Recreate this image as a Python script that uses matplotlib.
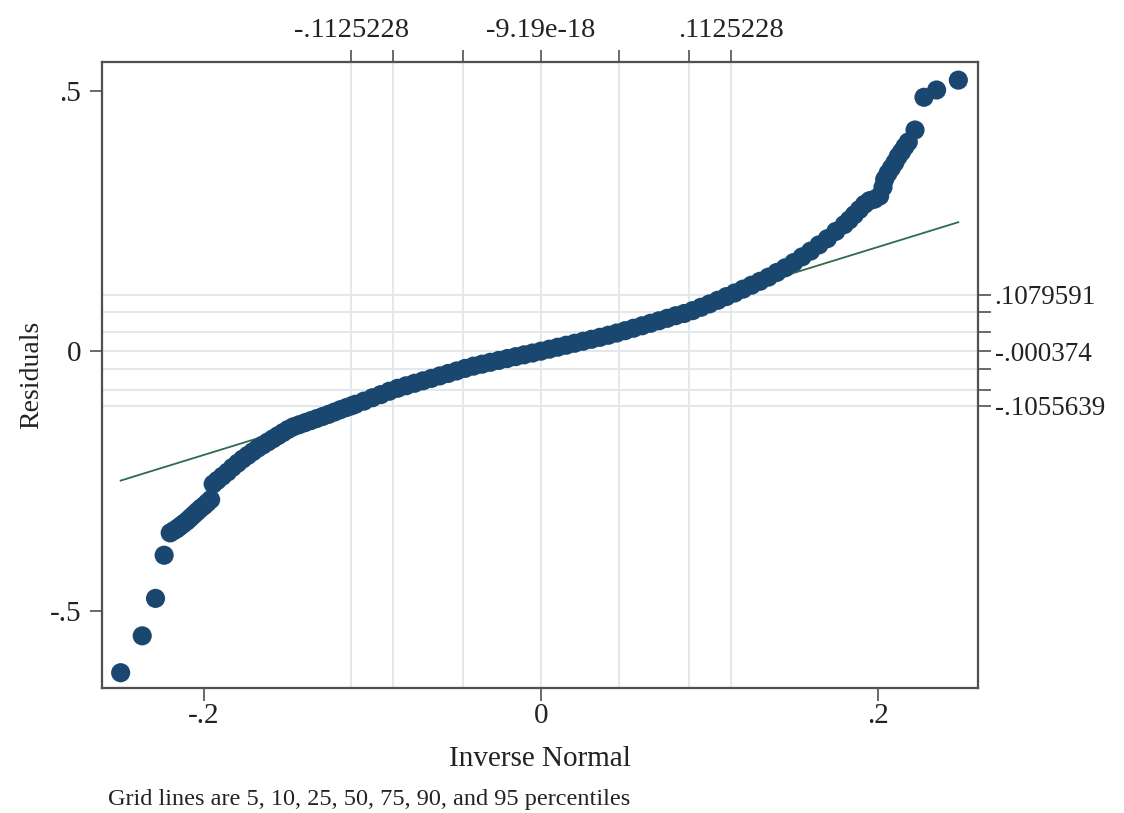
"""
qnorm-style plot of residuals against inverse normal, with percentile grid lines.
"""
import matplotlib
matplotlib.use("Agg")
import matplotlib.pyplot as plt

# ── Data ──────────────────────────────────────────────────────────────
# inverse-normal quantiles (x) and sorted residuals (y)
inv_normal = [
    -0.2494, -0.2366, -0.2287, -0.2236,
    -0.2200, -0.2180, -0.2160, -0.2140, -0.2120, -0.2100, -0.2080, -0.2060,
    -0.2040, -0.2020, -0.2000, -0.1980, -0.1960,
    -0.1945, -0.1920, -0.1890, -0.1860, -0.1830, -0.1800, -0.1770, -0.1740,
    -0.1710, -0.1680, -0.1650, -0.1620, -0.1590, -0.1560, -0.1530, -0.1500,
    -0.1470, -0.1435, -0.1400, -0.1365, -0.1330, -0.1295, -0.1260, -0.1225,
    -0.1190, -0.1155, -0.1125,
    -0.110, -0.105, -0.100, -0.095, -0.090, -0.085, -0.080, -0.075, -0.070,
    -0.065, -0.060, -0.055, -0.050, -0.045, -0.040, -0.035, -0.030, -0.025,
    -0.020, -0.015, -0.010, -0.005, 0.000, 0.005, 0.010, 0.015, 0.020,
    0.025, 0.030, 0.035, 0.040, 0.045, 0.050, 0.055, 0.060, 0.065,
    0.070, 0.075, 0.080, 0.085, 0.090, 0.095, 0.100, 0.105, 0.110, 0.115,
    0.120, 0.125, 0.130, 0.135, 0.140, 0.145, 0.150, 0.155, 0.160, 0.165,
    0.170, 0.175, 0.180, 0.183, 0.186, 0.189, 0.192, 0.195, 0.198, 0.201,
    0.203, 0.204, 0.206, 0.208, 0.210, 0.212, 0.214, 0.216, 0.218, 0.222,
    0.2273, 0.2348, 0.2477,
]
residuals = [
    -0.619, -0.548, -0.476, -0.393,
    -0.350, -0.346, -0.342, -0.337, -0.332, -0.327, -0.321, -0.315,
    -0.309, -0.303, -0.298, -0.292, -0.286,
    -0.256, -0.249, -0.241, -0.233, -0.224, -0.216, -0.208, -0.201,
    -0.194, -0.187, -0.181, -0.175, -0.169, -0.163, -0.157, -0.151,
    -0.146, -0.142, -0.138, -0.134, -0.130, -0.126, -0.122, -0.1175,
    -0.113, -0.109, -0.1056,
    -0.1025, -0.0965, -0.0900, -0.0840, -0.0775, -0.0718, -0.0670, -0.0622, -0.0575,
    -0.0528, -0.0480, -0.0433, -0.0385, -0.0336, -0.0292, -0.0255, -0.0218, -0.0182,
    -0.0146, -0.0110, -0.0075, -0.0040, -0.0004, 0.0034, 0.0072, 0.0110, 0.0148,
    0.0186, 0.0224, 0.0262, 0.0302, 0.0345, 0.0390, 0.0437, 0.0484, 0.0532,
    0.0580, 0.0628, 0.0678, 0.0720, 0.0775, 0.0840, 0.0905, 0.0975, 0.1045, 0.1115,
    0.119, 0.1265, 0.134, 0.142, 0.151, 0.160, 0.170, 0.181, 0.192, 0.204,
    0.216, 0.230, 0.243, 0.252, 0.262, 0.272, 0.282, 0.289, 0.292, 0.298,
    0.315, 0.330, 0.342, 0.352, 0.362, 0.374, 0.383, 0.393, 0.402, 0.425,
    0.488, 0.502, 0.521,
]

# percentile grid lines: 5, 10, 25, 50, 75, 90, 95
x_pct = [-0.1125228, -0.0877, -0.0461, -9.19e-18, 0.0461, 0.0877, 0.1125228]
x_pct_labels = ["-.1125228", "", "", "-9.19e-18", "", "", ".1125228"]
y_pct = [-0.1055639, -0.0745, -0.0345, -0.000374, 0.0355, 0.0747, 0.1079591]
y_pct_labels = ["-.1055639", "", "", "-.000374", "", "", ".1079591"]

x_ticks = [-0.2, 0, 0.2]
x_tick_labels = ["-.2", "0", ".2"]
y_ticks = [-0.5, 0, 0.5]
y_tick_labels = ["-.5", "0", ".5"]

# ── Style ─────────────────────────────────────────────────────────────
MARKER = "#1a476f"
LINE = "#2f6b4a"
GRID = "#e3e8ec"
SPINE = "#505050"
TEXT = "#222222"

plt.rcParams["font.family"] = ["Liberation Serif", "DejaVu Serif"]

fig = plt.figure(figsize=(11.24, 8.13), dpi=100)
ax = fig.add_axes([0.0907, 0.154, 0.7793, 0.7697])

xlim = (-0.2605, 0.2593)
ylim = (-0.648, 0.5558)

for xv in x_pct:
    ax.axvline(xv, color=GRID, lw=1.4, zorder=0)
for yv in y_pct:
    ax.axhline(yv, color=GRID, lw=1.4, zorder=0)

ax.plot([inv_normal[0], inv_normal[-1]], [inv_normal[0], inv_normal[-1]],
        color=LINE, lw=1.3, zorder=1)
ax.scatter(inv_normal, residuals, s=190, color=MARKER, edgecolors="none", zorder=2)

ax.set_xlim(*xlim)
ax.set_ylim(*ylim)
ax.set_xticks(x_ticks)
ax.set_xticklabels(x_tick_labels)
ax.set_yticks(y_ticks)
ax.set_yticklabels(y_tick_labels)
ax.tick_params(axis="x", length=9, width=1.2, color=SPINE, labelsize=21,
               labelcolor=TEXT, pad=2)
ax.tick_params(axis="y", length=9, width=1.2, color=SPINE, labelsize=21,
               labelcolor=TEXT, pad=6)
ax.set_xlabel("Inverse Normal", fontsize=21, color=TEXT, labelpad=12)
ax.set_ylabel("Residuals", fontsize=20, color=TEXT, labelpad=4)
for sp in ax.spines.values():
    sp.set_color(SPINE)
    sp.set_linewidth(1.5)

# top axis: x percentiles
axt = ax.twiny()
axt.set_xlim(*xlim)
axt.set_xticks(x_pct)
axt.set_xticklabels(x_pct_labels)
axt.tick_params(length=9, width=1.2, color=SPINE, labelsize=20.5, labelcolor=TEXT, pad=5)

# right axis: y percentiles
axr = ax.twinx()
axr.set_ylim(*ylim)
axr.set_yticks(y_pct)
axr.set_yticklabels(y_pct_labels)
axr.tick_params(length=9, width=1.2, color=SPINE, labelsize=19.5, labelcolor=TEXT, pad=3)
for a in (axt, axr):
    for sp in a.spines.values():
        sp.set_color(SPINE)
        sp.set_linewidth(1.5)

fig.text(0.096, 0.004, "Grid lines are 5, 10, 25, 50, 75, 90, and 95 percentiles",
         fontsize=17.5, color=TEXT, ha="left", va="bottom")

plt.savefig("out.png", dpi=100)
plt.close()
